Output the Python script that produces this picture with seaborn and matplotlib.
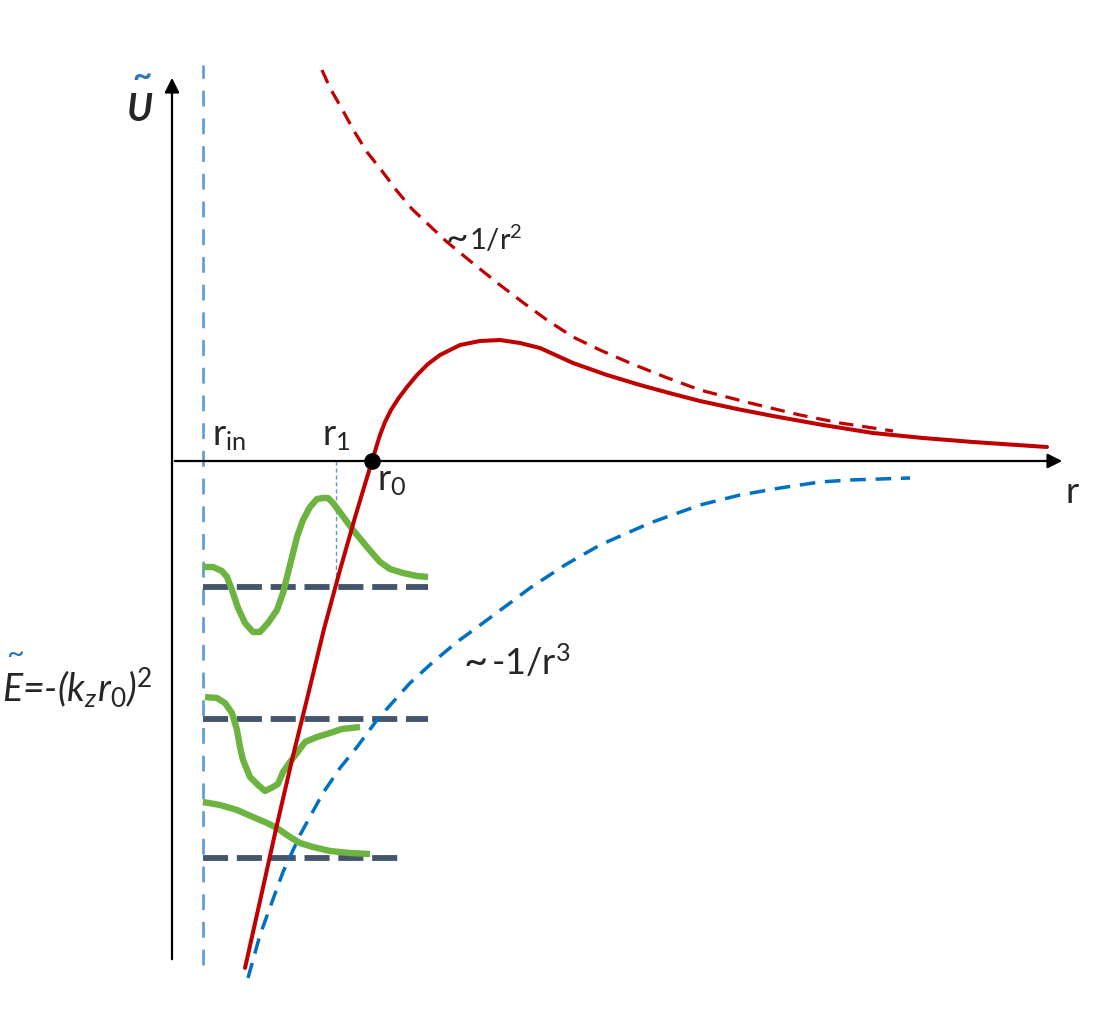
import matplotlib
matplotlib.use('Agg')
import matplotlib.pyplot as plt
import numpy as np
import pandas as pd
import seaborn as sns

# points: r to the right of the U axis, U up from the r axis
red_r = [73, 88, 104, 120, 136, 152, 168, 184, 200, 204, 208, 213, 219, 226, 235, 245, 256,
         268, 288, 308, 328, 348, 368, 401, 435, 468, 501, 528, 565, 601, 651, 701, 751, 801, 875]
red_u = [-507, -440, -368, -299, -234, -168, -109, -53, 0, 13, 26, 39, 51, 62, 74, 86, 97,
         106, 116, 120, 121, 118, 113, 98, 86, 76, 67, 60, 52, 45, 36, 28, 23, 19, 14]

rep_r = [150, 158, 170, 182, 195, 210, 225, 240, 259, 275, 303, 328, 353, 375, 401, 428,
         458, 493, 528, 578, 628, 668, 721]
rep_u = [391, 373, 352, 330, 309, 290, 270, 252, 234, 219, 196, 176, 157, 141, 124, 111,
         98, 84, 71, 58, 46, 38, 30]

att_r = [76, 88, 100, 111, 128, 151, 168, 185, 205, 221, 238, 261, 285, 315, 338, 358,
         393, 428, 478, 528, 568, 608, 648, 678, 738]
att_u = [-517, -474, -441, -411, -374, -332, -307, -286, -259, -241, -222, -201, -181, -159,
         -142, -127, -104, -84, -62, -44, -34, -27, -21, -19, -17]

psi1_r = [31, 41, 50, 55, 60, 66, 73, 81, 88, 96, 105, 111, 116, 120, 125, 131, 138, 145,
          151, 156, 161, 170, 181, 195, 208, 218, 231, 245, 256]
psi1_u = [-106, -106, -110, -116, -129, -147, -162, -171, -171, -162, -149, -132, -112, -96,
          -76, -59, -46, -38, -37, -37, -42, -54, -69, -86, -101, -108, -112, -115, -116]
psi2_r = [33, 45, 53, 60, 65, 68, 71, 78, 86, 93, 101, 106, 111, 118, 125, 133, 145, 158, 170, 188]
psi2_u = [-236, -237, -242, -252, -269, -286, -299, -316, -324, -330, -326, -323, -311, -301,
          -292, -281, -276, -272, -268, -266]
psi3_r = [31, 48, 65, 81, 95, 105, 118, 128, 141, 158, 178, 198]
psi3_u = [-341, -344, -349, -356, -362, -367, -376, -382, -386, -390, -392, -393]

levels_u = [-126, -258, -397]
levels_end = [256, 256, 233]

r_in, r_1, r_0 = 31, 164, 200
psi1_at_r1 = -124

sns.set_theme(style='white')
plt.rcParams['font.family'] = ['Lato', 'DejaVu Sans']
plt.rcParams['mathtext.fontset'] = 'custom'
plt.rcParams['mathtext.rm'] = 'Lato'
plt.rcParams['mathtext.it'] = 'Lato:italic'
plt.rcParams['mathtext.bf'] = 'Lato:bold'

fig = plt.figure(figsize=(10.98, 10.21), dpi=100)
ax = fig.add_axes([0, 0, 1, 1])
ax.set_xlim(-172, 926)
ax.set_ylim(-560, 461)
ax.axis('off')

# axes arrows
ax.annotate('', xy=(0, 386), xytext=(0, -501),
            arrowprops=dict(arrowstyle='-|>', color='black', lw=1.6, mutation_scale=22))
ax.annotate('', xy=(893, 0), xytext=(0, 0),
            arrowprops=dict(arrowstyle='-|>', color='black', lw=1.6, mutation_scale=22))

# r_in wall and r_1 marker
ax.plot([r_in, r_in], [-504, 396], color='#5b9bd5', lw=1.9, dashes=(6, 4.5))
ax.plot([r_1, r_1], [0, psi1_at_r1], color='#5b9bd5', lw=1, dashes=(3, 2))

# energy levels
for u, x_end in zip(levels_u, levels_end):
    ax.plot([r_in, x_end], [u, u], color='#44546a', lw=4.2, dashes=(4.3, 1.5), zorder=2)

green = '#6db33f'
for rr, uu in [(psi1_r, psi1_u), (psi2_r, psi2_u), (psi3_r, psi3_u)]:
    df = pd.DataFrame({'r': rr, 'u': uu})
    sns.lineplot(data=df, x='r', y='u', sort=False, ax=ax, color=green, lw=4.6,
                 solid_capstyle='butt', solid_joinstyle='round', zorder=3)

sns.lineplot(x=rep_r, y=rep_u, sort=False, ax=ax, color='#c00000', lw=2.3)
ax.lines[-1].set_dashes((4.5, 2.8))
sns.lineplot(x=att_r, y=att_u, sort=False, ax=ax, color='#0070c0', lw=2.5)
ax.lines[-1].set_dashes((4.5, 2.8))
sns.lineplot(x=red_r, y=red_u, sort=False, ax=ax, color='#c00000', lw=2.9, zorder=4,
             solid_joinstyle='round')

ax.scatter([r_0], [0], s=120, color='black', zorder=5)

# labels
ax.text(-32, 352, 'U', fontsize=27, fontweight='bold', style='italic', ha='center', va='center')
ax.text(-30, 384, '~', fontsize=24, color='#2e75b6', ha='center', va='center', fontweight='bold')
ax.text(40, 16, r'r$_{\mathrm{in}}$', fontsize=26, ha='left', va='baseline')
ax.text(150, 16, r'r$_{\mathrm{1}}$', fontsize=26, ha='left', va='baseline')
ax.text(205, -4, r'r$_{\mathrm{0}}$', fontsize=26, ha='left', va='top')
ax.text(893, -15, 'r', fontsize=26, ha='left', va='top')
ax.text(274, 211, '~', fontsize=28, ha='left', va='baseline')
ax.text(297, 211, r'1/r$^{\mathrm{2}}$', fontsize=21, ha='left', va='baseline')
ax.text(292, -214, '~', fontsize=30, ha='left', va='baseline')
ax.text(319, -214, r'-1/r$^{\mathrm{3}}$', fontsize=26, ha='left', va='baseline')
ax.text(-170, -241, r'E=-(k$_{\mathit{z}}$r$_{\mathit{0}}$)$^{\mathit{2}}$', fontsize=27,
        style='italic', ha='left', va='baseline')
ax.text(-157, -193, '~', fontsize=22, color='#2e75b6', ha='center', va='center')

fig.savefig('out.png', dpi=100)
